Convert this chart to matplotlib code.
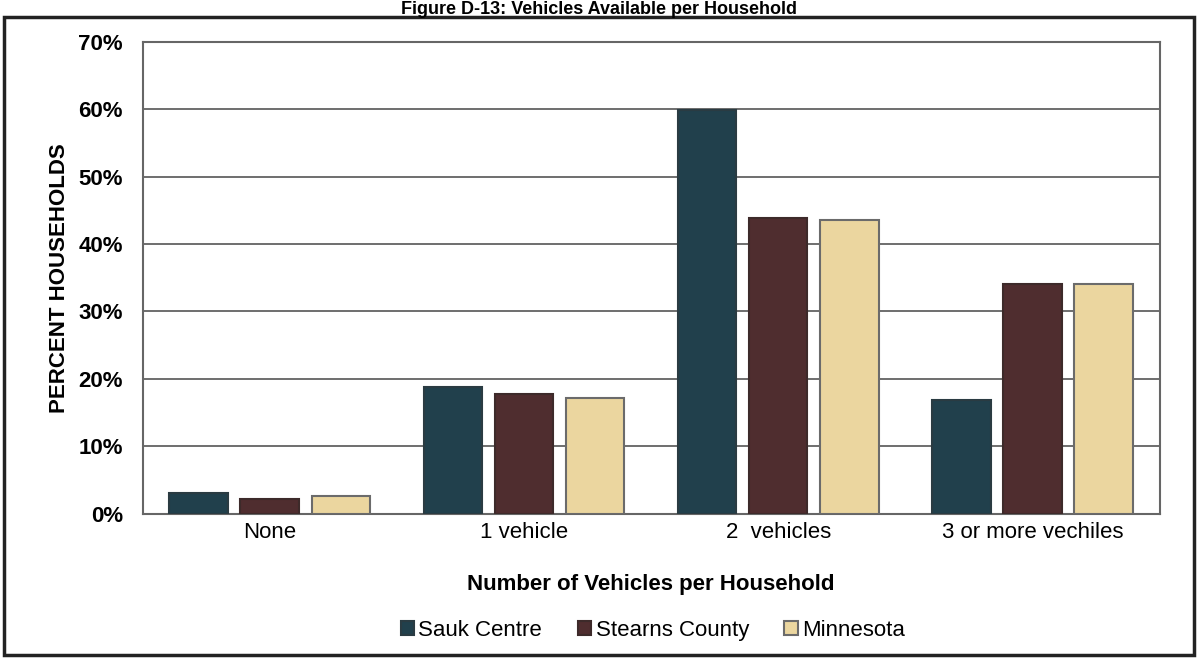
import numpy as np
import matplotlib.pyplot as plt
from matplotlib.patches import Rectangle

plt.rcParams["font.family"] = ["Liberation Sans", "DejaVu Sans"]

categories = ["None", "1 vehicle", "2  vehicles", "3 or more vechiles"]
series_names = ["Sauk Centre", "Stearns County", "Minnesota"]
sauk_centre = [3.0, 18.8, 59.8, 16.9]
stearns_county = [2.2, 17.8, 43.9, 34.0]
minnesota = [2.6, 17.2, 43.6, 34.0]
yticks = [0, 10, 20, 30, 40, 50, 60, 70]

colors = ["#21404c", "#4f2d2f", "#ebd69f"]
edges = ["#2a3b42", "#3d2a2a", "#6b6b6b"]

fig = plt.figure(figsize=(11.98, 6.62), dpi=100)
ax = fig.add_axes([0.119, 0.224, 0.849, 0.713])

x = np.arange(len(categories))
width = 0.23
offsets = [-0.28, 0.0, 0.28]
for vals, name, off, c, ec in zip([sauk_centre, stearns_county, minnesota],
                                  series_names, offsets, colors, edges):
    ax.bar(x + off, vals, width, color=c, edgecolor=ec, linewidth=1.5,
           label=name, zorder=3)

ax.set_ylim(0, 70)
ax.set_xlim(-0.5, len(categories) - 0.5)
ax.set_yticks(yticks)
ax.set_yticklabels([f"{t}%" for t in yticks], fontsize=16, fontweight="bold")
ax.set_xticks(x)
ax.set_xticklabels(categories, fontsize=16)
ax.tick_params(axis="y", length=0, pad=14)
ax.tick_params(axis="x", length=0, pad=6)
ax.yaxis.grid(True, color="#555555", linewidth=1.2, zorder=0)
for s in ax.spines.values():
    s.set_color("#666666")
    s.set_linewidth(1.5)

ax.set_ylabel("PERCENT HOUSEHOLDS", fontsize=16, fontweight="bold", labelpad=6)
ax.set_xlabel("Number of Vehicles per Household", fontsize=16,
              fontweight="bold", labelpad=22)

leg = fig.legend(loc="center", bbox_to_anchor=(0.545, 0.048), ncol=3,
                 frameon=False, fontsize=16, handlelength=0.6,
                 handleheight=0.6, handletextpad=0.2, columnspacing=1.6)

fig.text(0.5, 0.999, "Figure D-13: Vehicles Available per Household",
         ha="center", va="top", fontsize=13, fontweight="bold")

fig.patches.append(Rectangle((0.003, 0.01), 0.994, 0.965, transform=fig.transFigure,
                             fill=False, edgecolor="#222222", linewidth=2.5))

fig.savefig("out.png", dpi=100)
